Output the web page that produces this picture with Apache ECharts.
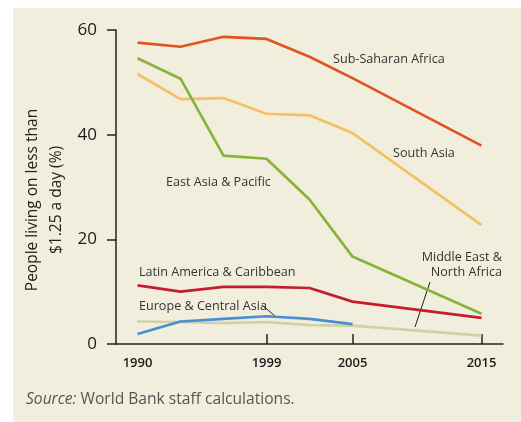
<!DOCTYPE html>
<html>
<head>
<meta charset="utf-8">
<script src="https://cdn.jsdelivr.net/npm/echarts@6/dist/echarts.min.js"></script>
<style>
html,body{margin:0;padding:0;background:#fff;}
#main{width:521px;height:422px;}
</style>
</head>
<body>
<div id="main"></div>
<script>
// years on the axis (equally spaced in the original)
var years=['1990','1993','1996','1999','2002','2005','2008','2010','2015'];
var shownYears=[0,3,5,8];
var tickYears=[3,5,8];
var yTicks=[0,20,40,60];
// values, % of people under $1.25 a day
var subSaharan=[57.6,56.8,58.7,58.3,54.9,50.8,null,null,37.9];
var southAsia=[51.6,46.8,47.0,44.0,43.7,40.3,null,null,22.7];
var eastAsia=[54.6,50.7,36.0,35.4,27.6,16.7,null,null,5.8];
var latinAm=[11.2,10.0,10.9,10.9,10.7,8.1,null,null,5.0];
var europeCA=[1.9,4.3,4.8,5.3,4.8,3.8,null,null,null];
var midEast=[4.3,4.2,4.0,4.2,3.6,3.5,null,null,1.6];

var ff='"Open Sans", "Noto Sans", sans-serif';
var txt='#333';

function mkLine(name,data,color){
	return {
		name:name,type:'line',data:data,connectNulls:true,
		symbol:'none',smooth:false,
		lineStyle:{color:color,width:2.7},
		itemStyle:{color:color}
	};
}

var chart=echarts.init(document.getElementById('main'),null,{renderer:'canvas'});
var option={
	backgroundColor:'#ffffff',
	animation:false,
	textStyle:{fontFamily:ff},
	grid:{left:116,right:18,top:30,bottom:78},
	xAxis:{
		type:'category',data:years,boundaryGap:true,
		axisLine:{lineStyle:{color:'#222',width:1.5}},
		axisTick:{show:true,inside:true,length:10,alignWithLabel:true,
			interval:function(i){return tickYears.indexOf(i)>=0;},
			lineStyle:{color:'#222',width:1.5}},
		axisLabel:{interval:function(i){return shownYears.indexOf(i)>=0;},
			color:'#1a1a1a',fontSize:13,fontWeight:600,margin:13,fontFamily:ff},
		splitLine:{show:false}
	},
	yAxis:{
		type:'value',min:yTicks[0],max:yTicks[yTicks.length-1],interval:20,
		axisLine:{show:true,lineStyle:{color:'#222',width:1.5}},
		axisTick:{show:true,length:9,lineStyle:{color:'#222',width:1.5}},
		axisLabel:{color:'#1a1a1a',fontSize:17,margin:19,fontFamily:ff},
		splitLine:{show:false}
	},
	series:[
		mkLine('Middle East & North Africa',midEast,'#d2d1a6'),
		mkLine('Europe & Central Asia',europeCA,'#4a8fd4'),
		mkLine('Latin America & Caribbean',latinAm,'#c41e2d'),
		mkLine('South Asia',southAsia,'#f3c164'),
		mkLine('East Asia & Pacific',eastAsia,'#86b43a'),
		mkLine('Sub-Saharan Africa',subSaharan,'#e0541f')
	],
	graphic:[
		{type:'rect',z:-10,silent:true,shape:{x:13,y:8,width:508,height:414},style:{fill:'#f2eedd'}},
		{type:'text',x:45,y:200,rotation:Math.PI/2,style:{text:'People living on less than\n$1.25 a day (%)',
			font:'15.5px '+ff,fill:'#222',align:'center',verticalAlign:'middle',lineHeight:24}},
		{type:'text',x:333,y:59,style:{text:'Sub-Saharan Africa',font:'12.6px '+ff,fill:txt,verticalAlign:'middle'}},
		{type:'text',x:393,y:153,style:{text:'South Asia',font:'12.6px '+ff,fill:txt,verticalAlign:'middle'}},
		{type:'text',x:166,y:182,style:{text:'East Asia & Pacific',font:'12.6px '+ff,fill:txt,verticalAlign:'middle'}},
		{type:'text',x:139,y:272,style:{text:'Latin America & Caribbean',font:'12.6px '+ff,fill:txt,verticalAlign:'middle'}},
		{type:'text',x:139,y:306,style:{text:'Europe & Central Asia',font:'12.6px '+ff,fill:txt,verticalAlign:'middle'}},
		{type:'text',x:502,y:265,style:{text:'Middle East &\nNorth Africa',font:'12.6px '+ff,fill:txt,align:'right',verticalAlign:'middle',lineHeight:15}},
		{type:'line',shape:{x1:262,y1:305,x2:275,y2:316},style:{stroke:'#222',lineWidth:1}},
		{type:'line',shape:{x1:430,y1:282,x2:415,y2:327},style:{stroke:'#222',lineWidth:1}},
		{type:'text',x:26,y:400,style:{text:'{i|Source:} World Bank staff calculations.',
			font:'15.6px '+ff,fill:'#555',verticalAlign:'middle',
			rich:{i:{fontStyle:'italic',fontSize:15.6,fontFamily:ff,fill:'#555'}}}}
	]
};
chart.setOption(option);
</script>
</body>
</html>
